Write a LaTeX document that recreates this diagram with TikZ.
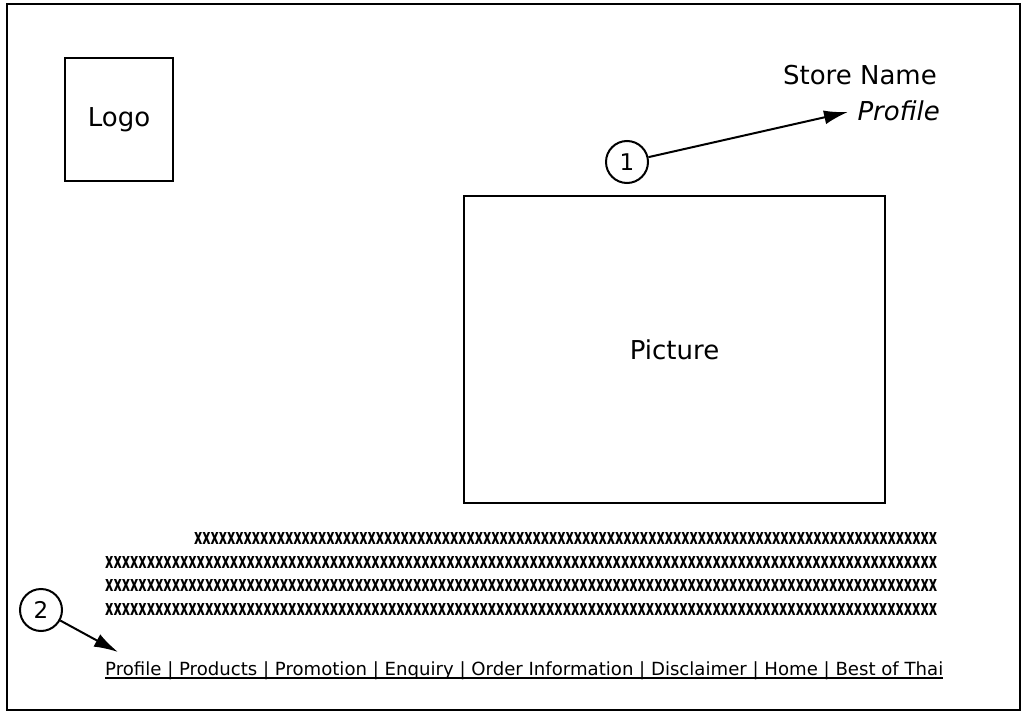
\documentclass[tikz,border=0pt]{standalone}
\usepackage{fontspec}
\setmainfont{DejaVu Sans}
\usetikzlibrary{arrows.meta}
\newcommand\myxten{xxxxxxxxxx}
\newcommand\myxnine{\myxten\myxten\myxten\myxten\myxten\myxten\myxten\myxten\myxten}
\newcommand\myxhund{\myxnine\myxten}
\tikzset{
  box/.style={draw, line width=2.4pt, inner sep=0pt, font=\fontsize{26}{30}\selectfont},
  lbl/.style={inner sep=0pt, font=\fontsize{26}{30}\selectfont},
  num/.style={draw, circle, line width=2pt, minimum size=42pt, inner sep=0pt, font=\fontsize{23}{26}\selectfont},
  arr/.style={line width=2pt, -{Latex[length=24pt,width=14pt]}},
  xrow/.style={inner sep=0pt, anchor=west, font=\bfseries},
  uline/.style={line width=1.3pt},
}
\begin{document}
\begin{tikzpicture}[x=1pt,y=-1pt]
\useasboundingbox (0,0) rectangle (1023,722);
\node[box, minimum width=1013pt, minimum height=706pt] (frame) at (513.5,357) {};
\node[box, minimum width=108pt, minimum height=123pt] (logo) at (119,119.5) {Logo};
\node[box, minimum width=421pt, minimum height=307pt] (picture) at (674.5,349.5) {Picture};
\node[lbl, anchor=base east] (store) at (937,85) {Store Name};
\node[lbl, anchor=base east, font=\fontsize{26}{30}\selectfont\itshape] (profile) at (940,121) {Profile};
\node[num] (n1) at (627,162) {1};
\node[num] (n2) at (41,610) {2};
\coordinate (t1) at (848,112);
\coordinate (t2) at (118,652);
\draw[arr] (n1) -- (t1);
\draw[arr] (n2) -- (t2);
\node[xrow] (x1) at (194,538) {\resizebox{743pt}{12pt}{\myxnine}};
\node[xrow] (x2) at (105,562) {\resizebox{832pt}{12pt}{\myxhund}};
\node[xrow] (x3) at (105,585) {\resizebox{832pt}{12pt}{\myxhund}};
\node[xrow] (x4) at (105,609) {\resizebox{832pt}{12pt}{\myxhund}};
\node[anchor=base west, inner sep=0pt] (nav) at (105,675) {\resizebox{838pt}{!}{Profile | Products | Promotion | Enquiry | Order Information | Disclaimer | Home | Best of Thai}};
\draw[uline] ([yshift=-3pt]nav.base west) -- ([yshift=-3pt]nav.base east);
\end{tikzpicture}
\end{document}
